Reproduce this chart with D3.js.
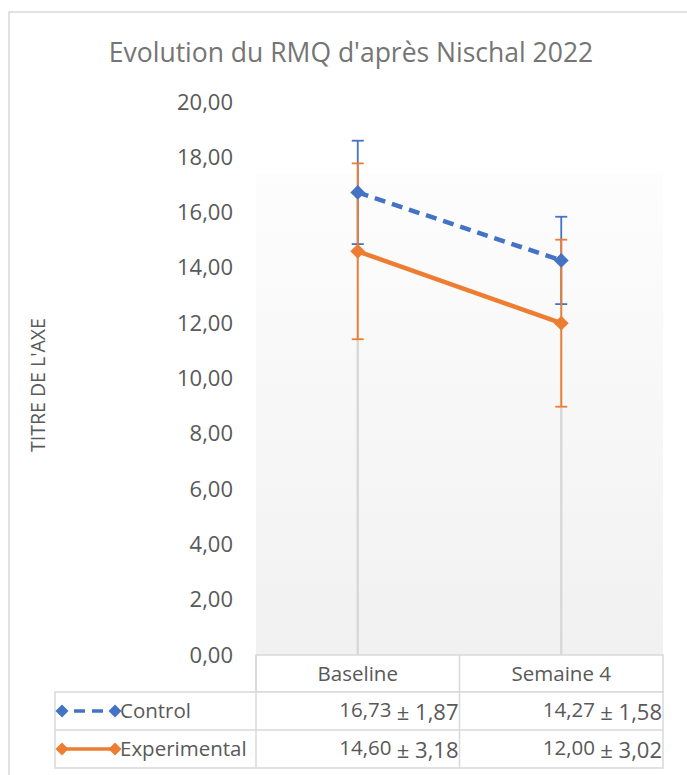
<!DOCTYPE html>
<html><head><meta charset="utf-8">
<script src="https://cdn.jsdelivr.net/npm/d3@7"></script>
<style>body{margin:0;background:#fff} svg{display:block}</style>
</head><body>
<svg id="chart" width="687" height="775"></svg>
<script>
// ---- data ----
const title = "Evolution du RMQ d'après Nischal 2022";
const yAxisTitle = "TITRE DE L'AXE";
const categories = ["Baseline", "Semaine 4"];
const seriesNames = ["Control", "Experimental"];
const controlMean = [16.73, 14.27];
const controlSD = [1.87, 1.58];
const experimentalMean = [14.60, 12.00];
const experimentalSD = [3.18, 3.02];
const yTicks = [0, 2, 4, 6, 8, 10, 12, 14, 16, 18, 20];

const colors = {Control: "#4472C4", Experimental: "#ED7D31"};
const series = [
  {name: seriesNames[0], mean: controlMean, sd: controlSD, dashed: true},
  {name: seriesNames[1], mean: experimentalMean, sd: experimentalSD, dashed: false}
];

const fr = d3.formatLocale({decimal: ",", thousands: " ", grouping: [3], currency: ["", " €"]});
const f2 = fr.format(".2f");

const svg = d3.select("#chart");
const font = "'Open Sans', sans-serif";
const gridCol = "#d9d9d9";
const textCol = "#595959";

// layout
const plotL = 256, plotR = 663, plotB = 655, plotT = 102;
const x = d3.scaleBand().domain(categories).range([plotL, plotR]);
const y = d3.scaleLinear().domain([0, 20]).range([plotB, plotT]);
const cx = c => x(c) + x.bandwidth() / 2;

// outer border
svg.append("rect").attr("x", 9).attr("y", 12).attr("width", 700).attr("height", 800)
  .attr("fill", "#fff").attr("stroke", gridCol).attr("stroke-width", 1.5);

// plot background gradient
const defs = svg.append("defs");
const grad = defs.append("linearGradient").attr("id", "bg").attr("x1", 0).attr("y1", 0).attr("x2", 0).attr("y2", 1);
grad.append("stop").attr("offset", "0%").attr("stop-color", "#fdfdfd");
grad.append("stop").attr("offset", "100%").attr("stop-color", "#f1f1f1");
svg.append("rect").attr("x", plotL).attr("y", 173).attr("width", plotR - plotL).attr("height", plotB - 173)
  .attr("fill", "url(#bg)");

// title
svg.append("text").attr("x", 351).attr("y", 62).attr("text-anchor", "middle")
  .attr("font-family", font).attr("font-size", 26.5).attr("fill", "#757575").text(title);

// y axis
const yAxis = d3.axisLeft(y).tickValues(yTicks).tickFormat(f2).tickSize(0).tickPadding(0);
const gy = svg.append("g").attr("transform", "translate(233,0)").call(yAxis);
gy.select(".domain").remove();
gy.selectAll("text").attr("font-family", font).attr("font-size", 22).attr("fill", textCol);

svg.append("text").attr("transform", `translate(40,385) rotate(-90)`).attr("text-anchor", "middle")
  .attr("dominant-baseline", "middle")
  .attr("font-family", font).attr("font-size", 19.5).attr("fill", textCol).text(yAxisTitle);

// drop lines
categories.forEach((c, i) => {
  const top = d3.max(series, s => s.mean[i]);
  svg.append("line").attr("x1", cx(c)).attr("x2", cx(c)).attr("y1", y(top)).attr("y2", plotB)
    .attr("stroke", "#d9d9d9").attr("stroke-width", 2.5);
});

// error bars
series.forEach(s => {
  const g = svg.append("g").attr("stroke", colors[s.name]).attr("stroke-width", 1.8);
  categories.forEach((c, i) => {
    const hi = y(s.mean[i] + s.sd[i]), lo = y(s.mean[i] - s.sd[i]), xc = cx(c);
    g.append("line").attr("x1", xc).attr("x2", xc).attr("y1", hi).attr("y2", lo);
    g.append("line").attr("x1", xc - 6).attr("x2", xc + 6).attr("y1", hi).attr("y2", hi);
    g.append("line").attr("x1", xc - 6).attr("x2", xc + 6).attr("y1", lo).attr("y2", lo);
  });
});

// lines + markers
const diamond = d3.symbol().type(d3.symbolSquare).size(110);
series.forEach(s => {
  const line = d3.line().x((d, i) => cx(categories[i])).y(d => y(d));
  svg.append("path").datum(s.mean).attr("d", line).attr("fill", "none")
    .attr("stroke", colors[s.name]).attr("stroke-width", 4.5)
    .attr("stroke-dasharray", s.dashed ? "11,7" : null);
});
series.forEach(s => {
  s.mean.forEach((m, i) => {
    svg.append("path").attr("d", diamond())
      .attr("transform", `translate(${cx(categories[i])},${y(m)}) rotate(45)`)
      .attr("fill", colors[s.name]);
  });
});

// data table
const tbl = svg.append("g").attr("stroke", gridCol).attr("stroke-width", 1.5);
const rowY = [655, 692, 730, 768];
const tblL = 55;
tbl.append("rect").attr("x", plotL).attr("y", rowY[0]).attr("width", plotR - plotL).attr("height", rowY[1] - rowY[0]).attr("fill", "#fff");
tbl.append("rect").attr("x", tblL).attr("y", rowY[1]).attr("width", plotR - tblL).attr("height", rowY[3] - rowY[1]).attr("fill", "#fff");
tbl.append("line").attr("x1", tblL).attr("x2", plotR).attr("y1", rowY[2]).attr("y2", rowY[2]);
[plotL, x(categories[1])].forEach(xv => {
  tbl.append("line").attr("x1", xv).attr("x2", xv).attr("y1", rowY[0]).attr("y2", rowY[3]);
});

// header
categories.forEach(c => {
  svg.append("text").attr("x", cx(c)).attr("y", 681).attr("text-anchor", "middle")
    .attr("font-family", font).attr("font-size", 20.5).attr("fill", textCol).text(c);
});

// rows
const rowMid = [711, 749];
series.forEach((s, r) => {
  const ym = rowMid[r];
  // legend key
  const k = svg.append("g");
  k.append("line").attr("x1", 62).attr("x2", 115).attr("y1", ym).attr("y2", ym)
    .attr("stroke", colors[s.name]).attr("stroke-width", 3.5)
    .attr("stroke-dasharray", s.dashed ? "0,12,11,7,11,20" : null);
  [62, 115].forEach(xv => k.append("path").attr("d", d3.symbol().type(d3.symbolSquare).size(85)())
    .attr("transform", `translate(${xv},${ym}) rotate(45)`).attr("fill", colors[s.name]));
  svg.append("text").attr("x", 120).attr("y", ym + 7).attr("font-family", font).attr("font-size", 20.5)
    .attr("fill", textCol).text(s.name);
  categories.forEach((c, i) => {
    const t = svg.append("text").attr("x", x(c) + x.bandwidth() - 1).attr("y", ym + 6).attr("text-anchor", "end")
      .attr("font-family", font).attr("fill", textCol);
    t.append("tspan").attr("font-size", 20.5).text(f2(s.mean[i]) + " ");
    t.append("tspan").attr("font-size", 22).attr("dy", 3).text("± " + f2(s.sd[i]));
  });
});
</script>
</body></html>
